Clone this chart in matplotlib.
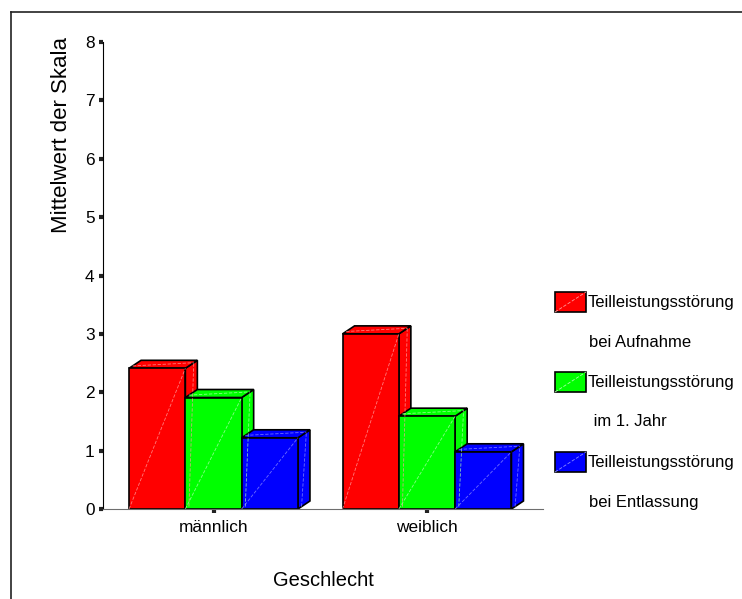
import matplotlib
matplotlib.use('Agg')
import matplotlib.pyplot as plt
from matplotlib.patches import Polygon, Rectangle
from matplotlib.lines import Line2D

plt.rcParams['font.family'] = ['Liberation Sans', 'DejaVu Sans']

# mean scale values per sex and time point
groups = ['männlich', 'weiblich']
series = ['Teilleistungsstörung\nbei Aufnahme',
          'Teilleistungsstörung\n im 1. Jahr',
          'Teilleistungsstörung\nbei Entlassung']
aufnahme = [2.41, 3.00]
erstes_jahr = [1.91, 1.59]
entlassung = [1.22, 0.98]
colors = ['#ff0000', '#00ff00', '#0000ff']
hilite = ['#ff9a9a', '#a8ffa8', '#8a8aff']

values = [aufnahme, erstes_jahr, entlassung]

W, H = 742, 599
fig = plt.figure(figsize=(W / 100, H / 100), dpi=100)

# axes box in pixels: x 103..543, y 42..509 (from top)
ax = fig.add_axes([103 / W, 1 - 509 / H, 440 / W, 467 / H])
ax.set_xlim(-0.5176, 1.5433)
ax.set_ylim(0, 8)

for s in ['top', 'right']:
    ax.spines[s].set_visible(False)
ax.spines['left'].set_color('black')
ax.spines['bottom'].set_color('#6e6e6e')

ax.set_yticks(range(0, 9))
ax.set_xticks(range(len(groups)))
ax.set_xticklabels(groups)
ax.tick_params(axis='y', direction='out', length=3, width=3, color='#222222',
               labelsize=12.4, pad=3)
ax.tick_params(axis='x', direction='out', length=3, width=3, color='#222222',
               labelsize=12.4, pad=5)
ax.set_ylabel('Mittelwert der Skala', fontsize=16, labelpad=12)
ax.yaxis.set_label_coords(-0.07, 0.80)
ax.set_xlabel('Geschlecht', fontsize=14.5, labelpad=26)

# depth of the 3d blocks in data units
bbox = ax.get_window_extent()
px_x = bbox.width / (1.5433 + 0.5176)
px_y = bbox.height / 8
ddx = 12 / px_x
ddy = 8 / px_y

bw = 56.3 / px_x
for i, (vals, c, hc) in enumerate(zip(values, colors, hilite)):
    for g, v in enumerate(vals):
        x0 = g + (i - 1.5) * bw
        x1 = x0 + bw
        side = [(x1, 0), (x1 + ddx, ddy), (x1 + ddx, v + ddy), (x1, v)]
        top = [(x0, v), (x1, v), (x1 + ddx, v + ddy), (x0 + ddx, v + ddy)]
        front = [(x0, 0), (x1, 0), (x1, v), (x0, v)]
        for poly in (side, top, front):
            ax.add_patch(Polygon(poly, closed=True, facecolor=c,
                                 edgecolor='black', linewidth=1.2,
                                 joinstyle='miter', clip_on=False))
        ax.plot([x0, x1], [0, v], color=hc, lw=0.6, ls=(0, (4, 2)),
                alpha=0.8, clip_on=False)
        ax.plot([x1 + ddx * 0.3, x1 + ddx * 0.7], [ddy * 0.3, v + ddy * 0.7],
                color=hc, lw=0.6, ls=(0, (4, 2)), alpha=0.8, clip_on=False)
        ax.plot([x0 + ddx * 0.3, x1 + ddx * 0.7],
                [v + ddy * 0.3, v + ddy * 0.7],
                color=hc, lw=0.6, ls=(0, (4, 2)), alpha=0.8, clip_on=False)

# legend drawn by hand in pixel positions
leg_top = [292, 372, 452]
for label, c, hc, ty in zip(series, colors, hilite, leg_top):
    x = 555 / W
    y = 1 - (ty + 20) / H
    w = 31 / W
    h = 20 / H
    fig.patches.append(Rectangle((x, y), w, h, transform=fig.transFigure,
                                 facecolor=c, edgecolor='black', lw=1.2))
    fig.lines.append(Line2D([x, x + w], [y, y + h], transform=fig.transFigure,
                            color=hc, lw=0.6, ls=(0, (4, 2))))
    first, second = label.split('\n')
    fig.text(588 / W, 1 - (ty + 10) / H, first, fontsize=12,
             ha='left', va='center')
    fig.text(589 / W, 1 - (ty + 50) / H, second, fontsize=12,
             ha='left', va='center')

# outer frame, only top and left edges fall inside the image
fig.lines.append(Line2D([10.5 / W, 1], [1 - 11.5 / H, 1 - 11.5 / H],
                        transform=fig.transFigure, color='#222222', lw=1.2))
fig.lines.append(Line2D([10.5 / W, 10.5 / W], [0, 1 - 11.5 / H],
                        transform=fig.transFigure, color='#222222', lw=1.2))

fig.savefig('out.png', dpi=100)
